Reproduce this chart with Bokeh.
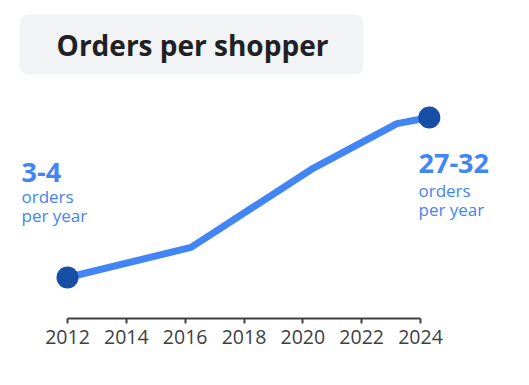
from bokeh.plotting import figure
from bokeh.models import FixedTicker, Label, BoxAnnotation, ColumnDataSource
from bokeh.embed import file_html
from bokeh.resources import INLINE

# ---- data ----
years = [2012, 2016.2, 2020.3, 2023.2, 2024.3]
orders = [3.5, 8.4, 21.1, 28.5, 29.5]
end_years = [2012, 2024.3]
end_orders = [3.5, 29.5]
tick_years = [2012, 2014, 2016, 2018, 2020, 2022, 2024]
title_text = "Orders per shopper"
start_range = "3-4"
end_range = "27-32"
unit_lines = ["orders", "per year"]

FONT = "Open Sans"
BLUE = "#4285f4"
DARK_BLUE = "#174ea6"
TEXT = "#202124"
AXIS = "#3c4043"

W, H = 521, 377
FRAME_H = 318
PXX = 353 / 12.0
X0 = 2012 - 67 / PXX
X1 = X0 + W / PXX
PXY = 160 / 26.0
Y1 = 29.5 + 117 / PXY
Y0 = Y1 - FRAME_H / PXY

def dx(px):  # canvas px -> data x
    return X0 + px / PXX

def dy(py):  # canvas px -> data y
    return Y1 - py / PXY

p = figure(width=W, height=H, output_backend="svg", toolbar_location=None,
           x_range=(X0, X1), y_range=(Y0, Y1), title=None,
           min_border_left=0, min_border_right=0, min_border_top=0,
           min_border_bottom=H - FRAME_H)
p.outline_line_color = None
p.grid.visible = False
p.yaxis.visible = False
p.background_fill_color = "white"
p.border_fill_color = "white"

ax = p.xaxis[0]
ax.ticker = FixedTicker(ticks=tick_years)
ax.bounds = (tick_years[0], tick_years[-1])
ax.axis_line_color = AXIS
ax.axis_line_width = 2
ax.major_tick_line_color = AXIS
ax.major_tick_line_width = 2
ax.major_tick_in = 0
ax.major_tick_out = 5
ax.minor_tick_line_color = None
ax.major_label_text_font = FONT
ax.major_label_text_font_size = "19.5px"
ax.major_label_text_color = AXIS
ax.major_label_standoff = 6

src = ColumnDataSource(dict(x=years, y=orders))
p.line("x", "y", source=src, line_color=BLUE, line_width=7, line_join="round")
p.scatter(end_years, end_orders, size=22, fill_color=DARK_BLUE, line_color=None)

# title box
p.add_layout(BoxAnnotation(left=dx(19), right=dx(363), top=dy(14), bottom=dy(74),
                           fill_color="#f1f3f4", fill_alpha=1, line_color=None,
                           border_radius=9))
p.add_layout(Label(x=dx(192), y=dy(44), text=title_text, text_font=FONT,
                   text_font_style="bold", text_font_size="28px", text_color=TEXT,
                   text_align="center", text_baseline="middle"))

# range labels (vertical centres of each text line)
p.add_layout(Label(x=dx(21), y=dy(172), text=start_range, text_font=FONT,
                   text_font_style="bold", text_font_size="27px", text_color=BLUE,
                   text_baseline="middle"))
p.add_layout(Label(x=dx(21), y=dy(196), text=unit_lines[0], text_font=FONT,
                   text_font_size="17px", text_color=BLUE, text_baseline="middle"))
p.add_layout(Label(x=dx(21), y=dy(215), text=unit_lines[1], text_font=FONT,
                   text_font_size="17px", text_color=BLUE, text_baseline="middle"))

p.add_layout(Label(x=dx(418), y=dy(163), text=end_range, text_font=FONT,
                   text_font_style="bold", text_font_size="27px", text_color=BLUE,
                   text_baseline="middle"))
p.add_layout(Label(x=dx(418), y=dy(190), text=unit_lines[0], text_font=FONT,
                   text_font_size="17px", text_color=BLUE, text_baseline="middle"))
p.add_layout(Label(x=dx(418), y=dy(209), text=unit_lines[1], text_font=FONT,
                   text_font_size="17px", text_color=BLUE, text_baseline="middle"))

open("out.html", "w").write(file_html(p, INLINE))
